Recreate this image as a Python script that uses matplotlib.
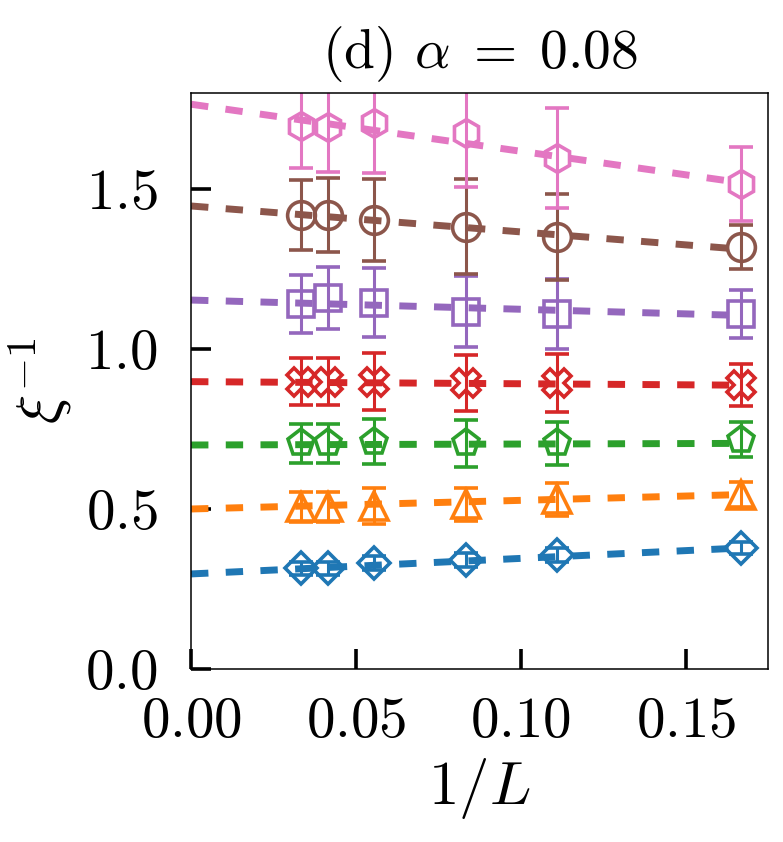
import numpy as np
import matplotlib
matplotlib.use("Agg")
import matplotlib.pyplot as plt

plt.rcParams["mathtext.fontset"] = "cm"
plt.rcParams["font.family"] = "serif"
plt.rcParams["font.serif"] = ["cmr10", "DejaVu Serif"]
plt.rcParams["axes.formatter.use_mathtext"] = True
plt.rcParams["axes.unicode_minus"] = False

# 1/L for L = 30, 24, 18, 12, 9, 6
inv_L = [1 / 30, 1 / 24, 1 / 18, 1 / 12, 1 / 9, 1 / 6]

# inverse correlation length per series (bottom to top)
xi_blue = [0.315, 0.315, 0.330, 0.342, 0.356, 0.378]
xi_orange = [0.505, 0.505, 0.510, 0.515, 0.530, 0.545]
xi_green = [0.705, 0.705, 0.710, 0.705, 0.705, 0.716]
xi_red = [0.898, 0.898, 0.898, 0.893, 0.893, 0.887]
xi_purple = [1.140, 1.159, 1.145, 1.117, 1.110, 1.110]
xi_brown = [1.419, 1.419, 1.403, 1.382, 1.351, 1.319]
xi_pink = [1.697, 1.694, 1.706, 1.675, 1.597, 1.516]

err_blue = [0.020, 0.020, 0.022, 0.022, 0.022, 0.020]
err_orange = [0.047, 0.047, 0.056, 0.052, 0.052, 0.040]
err_green = [0.062, 0.062, 0.070, 0.074, 0.068, 0.055]
err_red = [0.073, 0.073, 0.088, 0.088, 0.090, 0.066]
err_purple = [0.090, 0.096, 0.107, 0.110, 0.110, 0.075]
err_brown = [0.110, 0.115, 0.127, 0.148, 0.134, 0.070]
err_pink = [0.130, 0.140, 0.156, 0.170, 0.156, 0.115]

# extrapolation lines: value at 1/L = 0 and at 1/L = 1/6
fit_x = [0.0, 1 / 6]
fit_blue = [0.297, 0.378]
fit_orange = [0.500, 0.545]
fit_green = [0.700, 0.705]
fit_red = [0.898, 0.887]
fit_purple = [1.153, 1.105]
fit_brown = [1.447, 1.312]
fit_pink = [1.765, 1.520]

series = [
    (xi_blue, err_blue, fit_blue, "#1f77b4", "D", 16.5),
    (xi_orange, err_orange, fit_orange, "#ff7f0e", "^", 20),
    (xi_green, err_green, fit_green, "#2ca02c", "p", 20),
    (xi_red, err_red, fit_red, "#d62728", "X", 20),
    (xi_purple, err_purple, fit_purple, "#9467bd", "s", 18.5),
    (xi_brown, err_brown, fit_brown, "#8c564b", "o", 20),
    (xi_pink, err_pink, fit_pink, "#e377c2", "h", 20),
]

fig = plt.figure(figsize=(7.83, 8.42), dpi=100)
ax = fig.add_axes([0.244, 0.2055, 0.737, 0.684])

for y, e, fit, c, m, ms in series:
    ax.errorbar(inv_L, y, yerr=e, fmt=m, color=c, mfc="none", mec=c,
                ms=ms, mew=2.6, elinewidth=2.2, capsize=8.5, capthick=2.5)
    ax.plot(fit_x, fit, color=c, lw=5, linestyle=(0, (2.5, 2.5)))

ax.set_xlim(0, 0.175)
ax.set_ylim(0, 1.8)
ax.set_xticks([0.0, 0.05, 0.10, 0.15])
ax.set_xticklabels([r"$0.00$", r"$0.05$", r"$0.10$", r"$0.15$"])
ax.set_yticks([0.0, 0.5, 1.0, 1.5])
ax.set_yticklabels([r"$0.0$", r"$0.5$", r"$1.0$", r"$1.5$"])
ax.tick_params(direction="in", length=14.5, width=2.6, labelsize=41, pad=20)
ax.tick_params(axis="y", pad=24)
for spine in ax.spines.values():
    spine.set_linewidth(1.1)

ax.set_xlabel(r"$1/L$", fontsize=44, labelpad=6)
ax.set_ylabel(r"$\xi^{-1}$", fontsize=44, labelpad=8)
ax.set_title(r"(d) $\alpha\;=\;0.08$", fontsize=40, pad=18)

fig.savefig("out.png", dpi=100)
